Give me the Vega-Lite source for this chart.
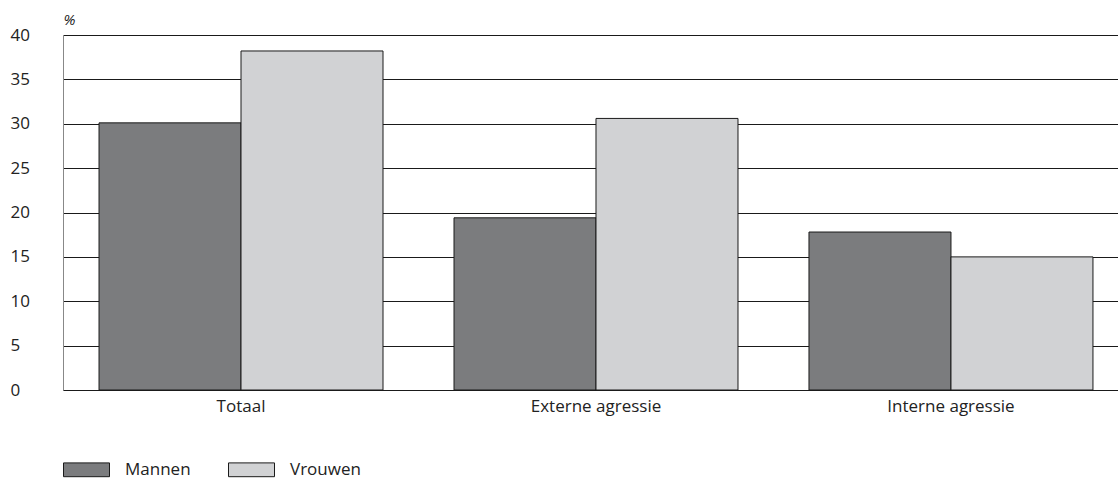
{
  "$schema": "https://vega.github.io/schema/vega-lite/v6.json",
  "autosize": {"type": "none"},
  "width": 1055,
  "height": 355,
  "padding": {"left": 63, "top": 35, "right": 0, "bottom": 96},
  "background": "white",
  "config": {
    "view": {"stroke": null},
    "font": "Open Sans",
    "axis": {"labelFont": "Open Sans", "labelFontSize": 17, "labelColor": "#222", "titleFont": "Open Sans"},
    "legend": {"labelFont": "Open Sans"}
  },
  "data": {
    "values": [
      {"cat": "Totaal", "sex": "Mannen", "pct": 30.1},
      {"cat": "Totaal", "sex": "Vrouwen", "pct": 38.2},
      {"cat": "Externe agressie", "sex": "Mannen", "pct": 19.4},
      {"cat": "Externe agressie", "sex": "Vrouwen", "pct": 30.6},
      {"cat": "Interne agressie", "sex": "Mannen", "pct": 17.8},
      {"cat": "Interne agressie", "sex": "Vrouwen", "pct": 15.0}
    ]
  },
  "mark": {"type": "bar", "stroke": "#1a1a1a", "strokeWidth": 1},
  "encoding": {
    "x": {
      "field": "cat", "type": "nominal", "sort": null,
      "scale": {"paddingInner": 0.2, "paddingOuter": 0.086, "align": 0.59},
      "axis": {"title": null, "labelAngle": 0, "ticks": false, "domainColor": "#1a1a1a", "labelPadding": 8, "grid": false}
    },
    "xOffset": {"field": "sex", "type": "nominal", "sort": ["Mannen", "Vrouwen"], "scale": {"paddingInner": 0, "paddingOuter": 0}},
    "y": {
      "field": "pct", "type": "quantitative",
      "scale": {"domain": [0, 40]},
      "axis": {
        "values": [0, 5, 10, 15, 20, 25, 30, 35, 40],
        "ticks": false, "labelAlign": "left", "labelPadding": 53,
        "grid": true, "gridColor": "#1a1a1a", "gridWidth": 1, "gridOpacity": 1,
        "domainColor": "#888",
        "title": "%", "titleAngle": 0, "titleAlign": "left", "titleBaseline": "bottom",
        "titleX": 0, "titleY": -8, "titleFontSize": 15, "titleFontWeight": "normal", "titleFontStyle": "italic", "titleColor": "#222"
      }
    },
    "fill": {
      "field": "sex", "type": "nominal",
      "scale": {"domain": ["Mannen", "Vrouwen"], "range": ["#7b7c7e", "#d1d2d4"]},
      "legend": {
        "title": null, "orient": "none", "direction": "horizontal",
        "legendX": 0, "legendY": 411,
        "symbolType": "M-1,-0.3L1,-0.3L1,0.3L-1,0.3Z", "symbolSize": 2116,
        "symbolStrokeColor": "#1a1a1a", "symbolStrokeWidth": 1,
        "labelFontSize": 17, "labelColor": "#222", "labelOffset": 15, "columnPadding": 35
      }
    }
  }
}
